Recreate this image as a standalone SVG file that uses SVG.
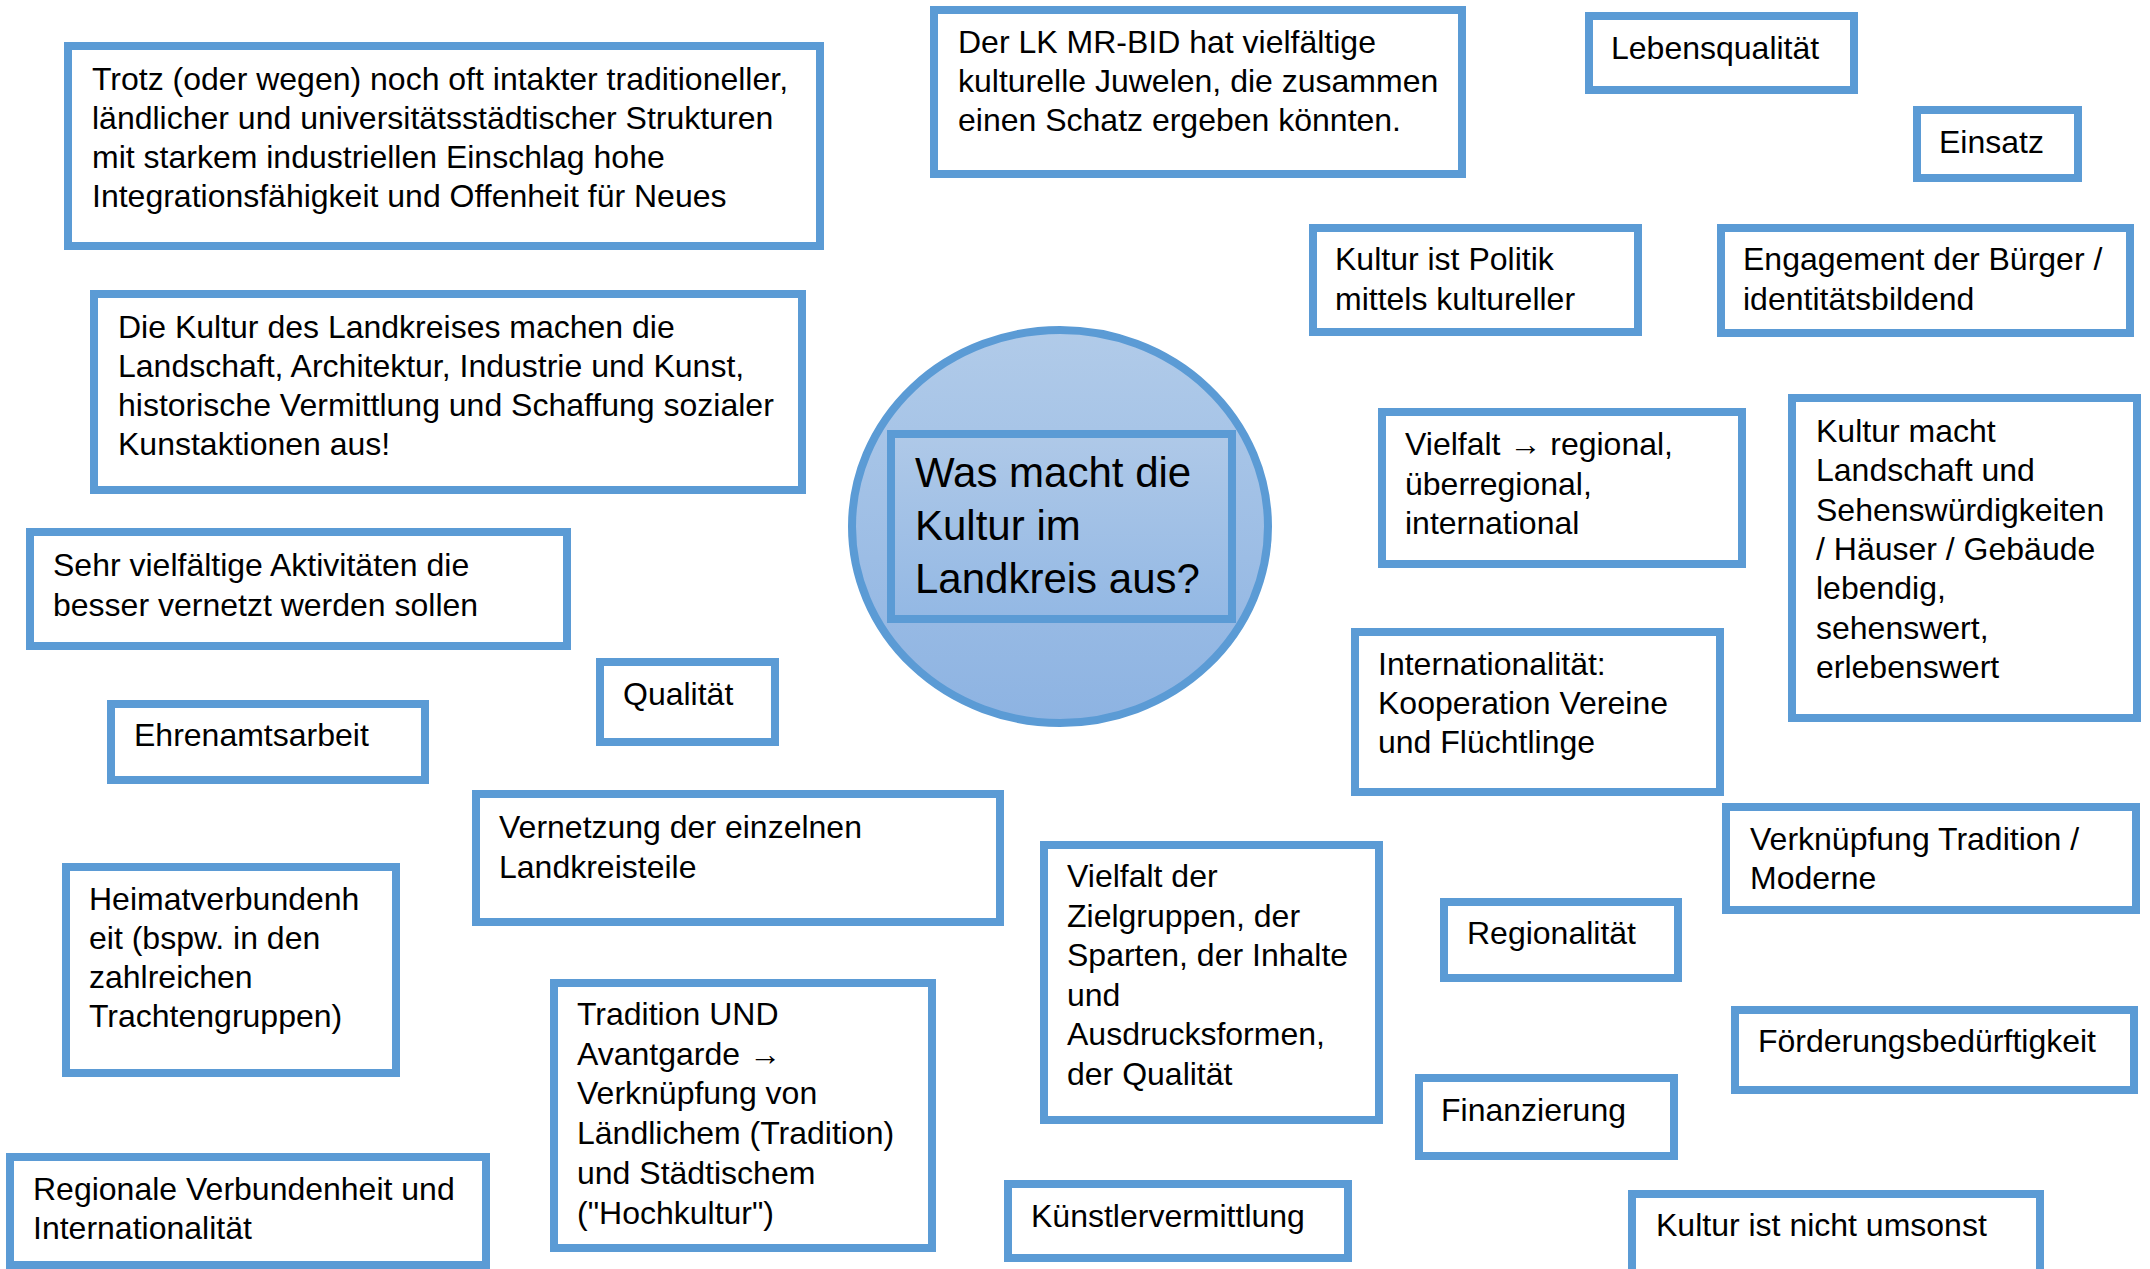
<svg xmlns="http://www.w3.org/2000/svg" width="2150" height="1269" viewBox="0 0 2150 1269">
<style>
.box{fill:#ffffff;stroke:#5B9BD5;stroke-width:8}
.t{font-family:"Liberation Sans",Arial,sans-serif;font-size:32px;fill:#000000}
.tc{font-family:"Liberation Sans",Arial,sans-serif;font-size:42px;fill:#000000}
</style>
<defs>
<linearGradient id="gc" x1="0" y1="0" x2="0" y2="1">
<stop offset="0" stop-color="#B1CBE9"/>
<stop offset="1" stop-color="#8DB3E2"/>
</linearGradient>
<linearGradient id="gr" x1="0" y1="0" x2="0" y2="1">
<stop offset="0" stop-color="#AFC9E8"/>
<stop offset="1" stop-color="#93B8E4"/>
</linearGradient>
</defs>
<rect width="2150" height="1269" fill="#ffffff"/>
<g id="connectors"/>

<g id="center">
<ellipse cx="1060" cy="526.5" rx="208" ry="196.5" fill="url(#gc)" stroke="#5B9BD5" stroke-width="8"/>
<rect x="891" y="434" width="341" height="185" fill="url(#gr)" stroke="#5B9BD5" stroke-width="8"/>
<text class="tc" x="915" y="487"><tspan x="915">Was macht die</tspan><tspan x="915" dy="53">Kultur im</tspan><tspan x="915" dy="53">Landkreis aus?</tspan></text>
</g>

<g id="n1">
<rect class="box" x="68" y="46" width="752" height="200"/>
<text class="t" x="92" y="90"><tspan x="92">Trotz (oder wegen) noch oft intakter traditioneller,</tspan><tspan x="92" dy="39">ländlicher und universitätsstädtischer Strukturen</tspan><tspan x="92" dy="39">mit starkem industriellen Einschlag hohe</tspan><tspan x="92" dy="39">Integrationsfähigkeit und Offenheit für Neues</tspan></text>
</g>

<g id="n2">
<rect class="box" x="94" y="294" width="708" height="196"/>
<text class="t" x="118" y="338"><tspan x="118">Die Kultur des Landkreises machen die</tspan><tspan x="118" dy="39">Landschaft, Architektur, Industrie und Kunst,</tspan><tspan x="118" dy="39">historische Vermittlung und Schaffung sozialer</tspan><tspan x="118" dy="39">Kunstaktionen aus!</tspan></text>
</g>

<g id="n3">
<rect class="box" x="934" y="10" width="528" height="164"/>
<text class="t" x="958" y="53"><tspan x="958">Der LK MR-BID hat vielfältige</tspan><tspan x="958" dy="39">kulturelle Juwelen, die zusammen</tspan><tspan x="958" dy="39">einen Schatz ergeben könnten.</tspan></text>
</g>

<g id="n4">
<rect class="box" x="1589" y="16" width="265" height="74"/>
<text class="t" x="1611" y="59">Lebensqualität</text>
</g>

<g id="n5">
<rect class="box" x="1917" y="110" width="161" height="68"/>
<text class="t" x="1939" y="153">Einsatz</text>
</g>

<g id="n6">
<rect class="box" x="1313" y="228" width="325" height="104"/>
<text class="t" x="1335" y="270"><tspan x="1335">Kultur ist Politik</tspan><tspan x="1335" dy="39.5">mittels kultureller</tspan></text>
</g>

<g id="n7">
<rect class="box" x="1721" y="228" width="409" height="105"/>
<text class="t" x="1743" y="270"><tspan x="1743">Engagement der Bürger /</tspan><tspan x="1743" dy="39.5">identitätsbildend</tspan></text>
</g>

<g id="n8">
<rect class="box" x="30" y="532" width="537" height="114"/>
<text class="t" x="53" y="576"><tspan x="53">Sehr vielfältige Aktivitäten die</tspan><tspan x="53" dy="39.5">besser vernetzt werden sollen</tspan></text>
</g>

<g id="n9">
<rect class="box" x="600" y="662" width="175" height="80"/>
<text class="t" x="623" y="705">Qualität</text>
</g>

<g id="n10">
<rect class="box" x="111" y="704" width="314" height="76"/>
<text class="t" x="134" y="746">Ehrenamtsarbeit</text>
</g>

<g id="n11">
<rect class="box" x="476" y="794" width="524" height="128"/>
<text class="t" x="499" y="838"><tspan x="499">Vernetzung der einzelnen</tspan><tspan x="499" dy="39.5">Landkreisteile</tspan></text>
</g>

<g id="n12">
<rect class="box" x="66" y="867" width="330" height="206"/>
<text class="t" x="89" y="909.5"><tspan x="89">Heimatverbundenh</tspan><tspan x="89" dy="39.3">eit (bspw. in den</tspan><tspan x="89" dy="39.3">zahlreichen</tspan><tspan x="89" dy="39.3">Trachtengruppen)</tspan></text>
</g>

<g id="n13">
<rect class="box" x="554" y="983" width="378" height="265"/>
<text class="t" x="577" y="1025"><tspan x="577">Tradition UND</tspan><tspan x="577" dy="39.7">Avantgarde →</tspan><tspan x="577" dy="39.7">Verknüpfung von</tspan><tspan x="577" dy="39.7">Ländlichem (Tradition)</tspan><tspan x="577" dy="39.7">und Städtischem</tspan><tspan x="577" dy="39.7">("Hochkultur")</tspan></text>
</g>

<g id="n14">
<rect class="box" x="10" y="1157" width="476" height="108"/>
<text class="t" x="33" y="1200"><tspan x="33">Regionale Verbundenheit und</tspan><tspan x="33" dy="38.5">Internationalität</tspan></text>
</g>

<g id="n15">
<rect class="box" x="1382" y="412" width="360" height="152"/>
<text class="t" x="1405" y="455"><tspan x="1405">Vielfalt → regional,</tspan><tspan x="1405" dy="39.5">überregional,</tspan><tspan x="1405" dy="39.5">international</tspan></text>
</g>

<g id="n16">
<rect class="box" x="1792" y="398" width="345" height="320"/>
<text class="t" x="1816" y="442"><tspan x="1816">Kultur macht</tspan><tspan x="1816" dy="39.3">Landschaft und</tspan><tspan x="1816" dy="39.3">Sehenswürdigkeiten</tspan><tspan x="1816" dy="39.3">/ Häuser / Gebäude</tspan><tspan x="1816" dy="39.3">lebendig,</tspan><tspan x="1816" dy="39.3">sehenswert,</tspan><tspan x="1816" dy="39.3">erlebenswert</tspan></text>
</g>

<g id="n17">
<rect class="box" x="1355" y="632" width="365" height="160"/>
<text class="t" x="1378" y="675"><tspan x="1378">Internationalität:</tspan><tspan x="1378" dy="39">Kooperation Vereine</tspan><tspan x="1378" dy="39">und Flüchtlinge</tspan></text>
</g>

<g id="n18">
<rect class="box" x="1726" y="807" width="410" height="103"/>
<text class="t" x="1750" y="850"><tspan x="1750">Verknüpfung Tradition /</tspan><tspan x="1750" dy="38.5">Moderne</tspan></text>
</g>

<g id="n19">
<rect class="box" x="1044" y="845" width="335" height="275"/>
<text class="t" x="1067" y="887"><tspan x="1067">Vielfalt der</tspan><tspan x="1067" dy="39.5">Zielgruppen, der</tspan><tspan x="1067" dy="39.5">Sparten, der Inhalte</tspan><tspan x="1067" dy="39.5">und</tspan><tspan x="1067" dy="39.5">Ausdrucksformen,</tspan><tspan x="1067" dy="39.5">der Qualität</tspan></text>
</g>

<g id="n20">
<rect class="box" x="1444" y="902" width="234" height="76"/>
<text class="t" x="1467" y="944">Regionalität</text>
</g>

<g id="n21">
<rect class="box" x="1735" y="1010" width="399" height="80"/>
<text class="t" x="1758" y="1052">Förderungsbedürftigkeit</text>
</g>

<g id="n22">
<rect class="box" x="1419" y="1078" width="255" height="78"/>
<text class="t" x="1441" y="1121">Finanzierung</text>
</g>

<g id="n23">
<rect class="box" x="1008" y="1184" width="340" height="74"/>
<text class="t" x="1031" y="1227">Künstlervermittlung</text>
</g>

<g id="n24">
<rect class="box" x="1632" y="1194" width="408" height="80"/>
<text class="t" x="1656" y="1236">Kultur ist nicht umsonst</text>
</g>
</svg>
